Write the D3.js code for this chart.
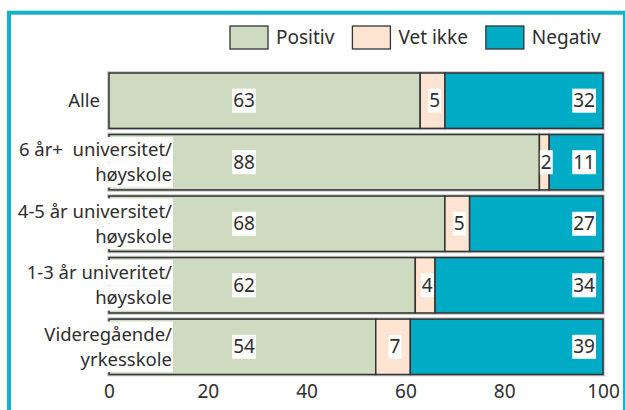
<!DOCTYPE html>
<html>
<head>
<meta charset="utf-8">
<script src="https://cdn.jsdelivr.net/npm/d3@7"></script>
<style>
  body { margin: 0; background: #fff; }
  svg text { font-family: "Noto Sans", sans-serif; fill: #2e2e2e; }
</style>
</head>
<body>
<div id="chart"></div>
<script>
(function() {
    // Values (per cent)
    var categories = ['Alle', '6 år+ universitet', '4-5 år universitet', '1-3 år univeritet', 'Videregående'];
    var labelLines = [
        ['Alle'],
        ['6 år+  universitet/', 'høyskole'],
        ['4-5 år universitet/', 'høyskole'],
        ['1-3 år univeritet/', 'høyskole'],
        ['Videregående/', 'yrkesskole']
    ];
    var positiv = [63, 88, 68, 62, 54];
    var vetIkke = [5, 2, 5, 4, 7];
    var negativ = [32, 11, 27, 34, 39];
    var seriesNames = ['Positiv', 'Vet ikke', 'Negativ'];
    var seriesColors = ['#cfdbc1', '#fde3d1', '#00acc5'];
    var xTicks = [0, 20, 40, 60, 80, 100];

    var width = 625;
    var height = 410;

    var rows = categories.map(function(c, i) {
        return { cat: c, lines: labelLines[i], vals: [positiv[i], vetIkke[i], negativ[i]] };
    });

    var svg = d3.select('#chart')
        .append('svg')
        .attr('width', width)
        .attr('height', height);

    // teal frame round the figure
    svg.append('rect')
        .attr('x', 9).attr('y', 12.7)
        .attr('width', 616).attr('height', 420)
        .attr('fill', 'none')
        .attr('stroke', '#16b1c7')
        .attr('stroke-width', 4);

    var xScale = d3.scaleLinear()
        .domain([0, 100])
        .range([109, 603]);

    var yScale = d3.scaleBand()
        .domain(categories)
        .range([73, 374.5])
        .paddingInner(0.1)
        .paddingOuter(0);

    var color = d3.scaleOrdinal().domain(seriesNames).range(seriesColors);

    // each row is stretched to a full 100 (rounded values may sum to 101)
    function shares(d) {
        var sum = d3.sum(d.vals);
        return d.vals.map(v => v * 100 / sum);
    }

    var rowG = svg.append('g').selectAll('g')
        .data(rows)
        .enter()
        .append('g');

    // faint grey halo round each bar
    rowG.append('rect')
        .attr('x', xScale(0))
        .attr('y', d => yScale(d.cat))
        .attr('width', xScale(100) - xScale(0))
        .attr('height', yScale.bandwidth())
        .attr('fill', 'none')
        .attr('stroke', '#c4c4c4')
        .attr('stroke-width', 3.6);

    rowG.each(function(d) {
        var g = d3.select(this);
        var start = 0;
        shares(d).forEach(function(v, k) {
            g.append('rect')
                .attr('x', xScale(start))
                .attr('y', yScale(d.cat))
                .attr('width', xScale(start + v) - xScale(start))
                .attr('height', yScale.bandwidth())
                .attr('fill', color(seriesNames[k]))
                .attr('stroke', '#333')
                .attr('stroke-width', 1.5);
            start += v;
        });
    });

    // value text with a white box behind it
    function boxedText(parent, x, y, anchor, str, boxH) {
        var g = parent.append('g');
        var t = g.append('text')
            .attr('x', x)
            .attr('y', y)
            .attr('dy', '0.35em')
            .attr('text-anchor', anchor)
            .style('font-size', '19px')
            .text(str);
        var bb = t.node().getBBox();
        g.insert('rect', 'text')
            .attr('x', bb.x - 1)
            .attr('y', y - boxH / 2)
            .attr('width', bb.width + 2)
            .attr('height', boxH)
            .attr('fill', '#fff');
    }

    var labelG = svg.append('g');
    rows.forEach(function(d) {
        var cy = yScale(d.cat) + yScale.bandwidth() / 2;
        var sh = shares(d);
        var start = 0;
        d.vals.forEach(function(v, k) {
            var x, anchor;
            if (k === 0) { x = xScale(0) + 135; anchor = 'middle'; }
            else if (k === 1) { x = xScale(start + sh[k] / 2) + 2; anchor = 'middle'; }
            else { x = xScale(100) - 8; anchor = 'end'; }
            boxedText(labelG, x, cy, anchor, v, 24);
            start += sh[k];
        });
    });

    // category labels (multi-line ones run into the bar), one white box per line
    var catG = svg.append('g');
    var lineH = 25.3;
    rows.forEach(function(d) {
        var cy = yScale(d.cat) + yScale.bandwidth() / 2;
        var n = d.lines.length;
        var edge = n > 1 ? xScale(0) + 63 : xScale(0) - 9;
        var g = catG.append('g');
        var boxes = g.append('g');
        var t = g.append('text')
            .attr('text-anchor', 'end')
            .style('font-size', '18.5px')
            .style('white-space', 'pre');
        d.lines.forEach(function(line, j) {
            var ly = cy + (j - (n - 1) / 2) * lineH;
            var ts = t.append('tspan')
                .attr('x', edge)
                .attr('y', ly)
                .attr('dy', '0.35em')
                .text(line);
            var w = ts.node().getComputedTextLength();
            boxes.append('rect')
                .attr('x', edge - w - 1)
                .attr('y', ly - lineH / 2)
                .attr('width', w + 2)
                .attr('height', lineH)
                .attr('fill', '#fff');
        });
    });

    // x axis, labels only
    var xAxis = svg.append('g')
        .attr('transform', `translate(0, ${yScale.range()[1]})`)
        .call(d3.axisBottom(xScale).tickValues(xTicks).tickSize(0).tickPadding(10.5));
    xAxis.select('.domain').remove();
    xAxis.selectAll('text')
        .style('font-size', '19px')
        .style('font-family', '"Noto Sans", sans-serif')
        .attr('fill', '#2e2e2e');

    // legend
    var legend = svg.append('g');
    var lx = 230;
    seriesNames.forEach(function(name) {
        legend.append('rect')
            .attr('x', lx).attr('y', 26)
            .attr('width', 38).attr('height', 23)
            .attr('fill', color(name))
            .attr('stroke', '#333')
            .attr('stroke-width', 1.3);
        var t = legend.append('text')
            .attr('x', lx + 46)
            .attr('y', 37.5)
            .attr('dy', '0.35em')
            .style('font-size', '19px')
            .text(name);
        lx += 46 + t.node().getComputedTextLength() + 18;
    });
})();
</script>
</body>
</html>
